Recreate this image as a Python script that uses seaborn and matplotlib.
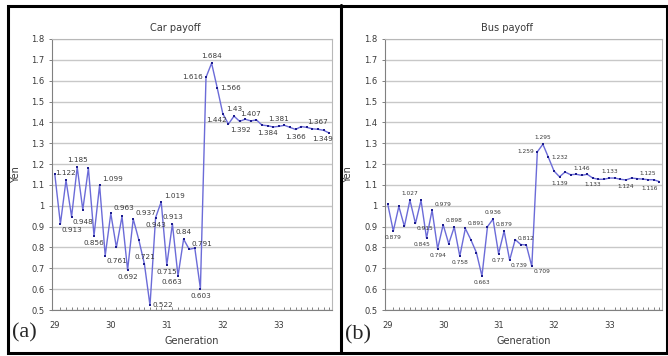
import numpy as np
import pandas as pd
import matplotlib
matplotlib.use("Agg")
import matplotlib.pyplot as plt
from matplotlib.patches import Rectangle
from matplotlib.lines import Line2D
import seaborn as sns

# generations 29.0 .. 33.9, one point per 0.1
generation = [29 + i / 10 for i in range(50)]

car_payoff = [1.151, 0.913, 1.122, 0.948, 1.185, 0.981, 1.180, 0.856, 1.099, 0.761,
              0.963, 0.800, 0.949, 0.692, 0.937, 0.837, 0.721, 0.522, 0.943, 1.019,
              0.715, 0.913, 0.663, 0.840, 0.791, 0.797, 0.603, 1.616, 1.684, 1.566,
              1.442, 1.392, 1.430, 1.405, 1.415, 1.407, 1.412, 1.387, 1.384, 1.378,
              1.381, 1.386, 1.376, 1.366, 1.380, 1.376, 1.369, 1.367, 1.362, 1.349]

bus_payoff = [1.007, 0.879, 0.997, 0.901, 1.027, 0.915, 1.026, 0.845, 0.979, 0.794,
              0.909, 0.818, 0.898, 0.758, 0.891, 0.837, 0.775, 0.663, 0.900, 0.936,
              0.770, 0.879, 0.739, 0.838, 0.814, 0.812, 0.709, 1.259, 1.295, 1.232,
              1.167, 1.139, 1.162, 1.149, 1.151, 1.146, 1.151, 1.133, 1.127, 1.127,
              1.133, 1.133, 1.127, 1.124, 1.133, 1.130, 1.128, 1.125, 1.125, 1.116]

# which points carry a data label, and where the label sits
car_labels = [(1, 'br'), (2, 'a'), (3, 'br'), (4, 'a'), (7, 'b'), (8, 'ar'), (9, 'br'),
              (10, 'ar'), (13, 'b'), (14, 'ar'), (16, 'a'), (17, 'r'), (18, 'b'), (19, 'ar'),
              (20, 'b'), (21, 'a'), (22, 'bl'), (23, 'a'), (24, 'ar'), (26, 'b'), (27, 'l'),
              (28, 'a'), (29, 'r'), (30, 'bl'), (31, 'br'), (32, 'a'), (35, 'a'), (38, 'b'),
              (40, 'a'), (43, 'b'), (47, 'a'), (49, 'bl')]
bus_labels = [(1, 'b'), (4, 'a'), (5, 'br'), (7, 'bl'), (8, 'ar'), (9, 'b'), (12, 'a'),
              (13, 'b'), (14, 'ar'), (17, 'b'), (19, 'a'), (20, 'b'), (21, 'a'), (22, 'br'),
              (25, 'a'), (26, 'br'), (27, 'l'), (28, 'a'), (29, 'r'), (31, 'b'), (35, 'a'),
              (37, 'b'), (40, 'a'), (43, 'b'), (47, 'a'), (49, 'bL')]

sns.set_style("white")
plt.rcParams['font.family'] = ['DejaVu Sans']

offsets = {
    'a': ((0, 3), 'center', 'bottom'),
    'b': ((0, -3), 'center', 'top'),
    'l': ((-2, 0), 'right', 'center'),
    'r': ((2, 0), 'left', 'center'),
    'ar': ((2, 2), 'left', 'bottom'),
    'br': ((1, -2), 'left', 'top'),
    'al': ((-2, 2), 'right', 'bottom'),
    'bl': ((3, -2.5), 'right', 'top'),
    'bL': ((-1, -3), 'right', 'top'),
}

line_col = '#6b6bd8'
mark_col = '#1c1c8e'
txt_col = '#3a3a3a'


def draw_panel(ax, values, labels, title, lab_size, ylab_x):
    df = pd.DataFrame({'gen': generation, 'val': values})
    sns.lineplot(data=df, x='gen', y='val', ax=ax, color=line_col, linewidth=1.0,
                 marker='s', markersize=2.1, markerfacecolor=mark_col,
                 markeredgecolor=mark_col, markeredgewidth=0)
    ax.set_xlim(28.95, 33.95)
    ax.set_ylim(0.5, 1.8)
    yt = np.round(np.arange(0.5, 1.81, 0.1), 1)
    ax.set_yticks(yt)
    ax.set_yticklabels([f"{v:g}" for v in yt])
    ax.set_xticks([29, 30, 31, 32, 33])
    ax.set_xticks(generation, minor=True)
    ax.grid(axis='y', color='#c8c8c8', linewidth=1.0)
    ax.set_axisbelow(True)
    for s in ['top', 'right']:
        ax.spines[s].set_color('#b8b8b8')
        ax.spines[s].set_linewidth(0.8)
    ax.spines['left'].set_color('#808080')
    ax.spines['bottom'].set_color('#808080')
    ax.spines['left'].set_linewidth(0.8)
    ax.spines['bottom'].set_linewidth(0.8)
    ax.tick_params(axis='y', which='major', length=2.5, width=0.7, color='#808080',
                   labelsize=6, labelcolor=txt_col, left=True, pad=3)
    ax.tick_params(axis='x', which='major', length=0, labelsize=6, labelcolor=txt_col, pad=8)
    ax.tick_params(axis='x', which='minor', direction='in', length=2.5, width=0.7,
                   color='#808080', bottom=True)
    ax.set_title(title, fontsize=7, color=txt_col, pad=6)
    ax.set_xlabel('Generation', fontsize=7, color=txt_col, labelpad=4)
    ax.set_ylabel('Yen', fontsize=7, color=txt_col)
    ax.yaxis.set_label_coords(ylab_x, 0.5)
    for idx, pos in labels:
        off, ha, va = offsets[pos]
        ax.annotate(f"{values[idx]:g}", (generation[idx], values[idx]), xytext=off,
                    textcoords='offset points', ha=ha, va=va, fontsize=lab_size,
                    color=txt_col)


fig = plt.figure(figsize=(6.68, 3.56), dpi=100)
ax_a = fig.add_axes([52 / 668, 1 - 310 / 356, 280 / 668, 271 / 356])
ax_b = fig.add_axes([385 / 668, 1 - 310 / 356, 277 / 668, 271 / 356])

draw_panel(ax_a, car_payoff, car_labels, 'Car payoff', 5.2, -0.11)
draw_panel(ax_b, bus_payoff, bus_labels, 'Bus payoff', 4.2, -0.115)
ax_a.title.set_x(0.44)
ax_b.title.set_x(0.44)

# black panel frames
fig.patches.append(Rectangle((8 / 668, 1 - 353 / 356), 659 / 668, 347 / 356,
                             transform=fig.transFigure, fill=False, edgecolor='black',
                             linewidth=2.2))
fig.lines.append(Line2D([341 / 668, 341 / 668], [1 - 353 / 356, 1 - 5 / 356],
                        transform=fig.transFigure, color='black', linewidth=2.2))

fig.text(12 / 668, 1 - 333 / 356, '(a)', family='Liberation Serif', fontsize=16,
         va='center', ha='left')
fig.text(345 / 668, 1 - 335 / 356, '(b)', family='Liberation Serif', fontsize=16,
         va='center', ha='left')

fig.savefig('out.png', dpi=100)
